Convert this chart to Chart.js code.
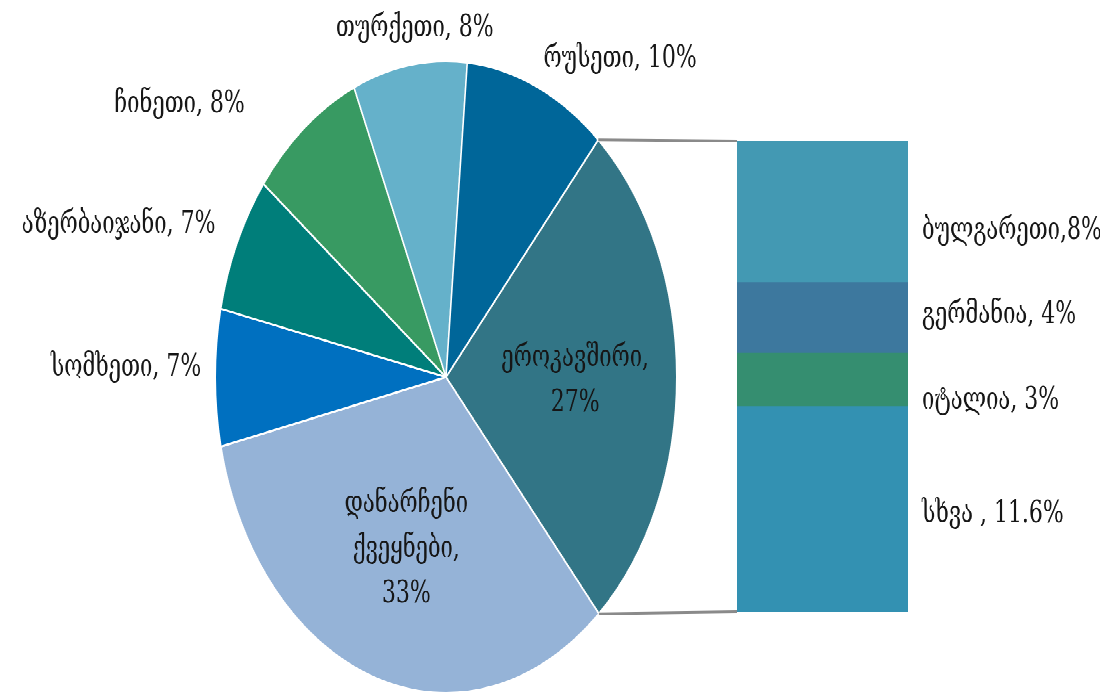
<!DOCTYPE html>
<html>
<head>
<meta charset="utf-8">
<script src="https://cdn.jsdelivr.net/npm/chart.js@4.4.1/dist/chart.umd.min.js"></script>
<style>
  html, body { margin: 0; padding: 0; background: #fff; }
  #page { position: relative; width: 1100px; height: 694px; overflow: hidden; }
  #wrap { position: absolute; left: 0; top: 0; width: 1100px; height: 507px; transform-origin: 0 0; transform: scaleY(1.3688); }
  #wrap canvas { position: absolute; left: 0; top: 0; width: 1100px; height: 507px; }
</style>
</head>
<body>
<div id="page">
<div id="wrap">
  <canvas id="pieChart" width="1100" height="507"></canvas>
  <canvas id="barChart" width="1100" height="507"></canvas>
</div>
</div>
<script>
// pie: countries
const pieLabels = ['ეროკავშირი', 'დანარჩენი ქვეყნები', 'სომხეთი', 'აზერბაიჯანი', 'ჩინეთი', 'თურქეთი', 'რუსეთი'];
const pieValues = [27, 33, 7, 7, 8, 8, 10];
const pieColors = ['#327586', '#95b3d7', '#0070c0', '#007e7a', '#389a62', '#65b1ca', '#006699'];

// EU breakdown (bottom to top)
const euLabels = ['სხვა ', 'იტალია', 'გერმანია', 'ბულგარეთი'];
const euValues = [11.6, 3, 4, 8];
const euColors = ['#3391b2', '#358e70', '#3d789e', '#4399b3'];

const FONT = '22px "DejaVu Serif"';
const TEXT = '#161616';

// small hand tweaks so the outside labels sit like the original
const outsideNudge = { 2: [0, -7], 3: [-18, -4], 4: [-76, 0], 5: [20, -5], 6: [47, 0] };
const barNudge = [4, 15, -2, 14];

const pieLabelPlugin = {
  id: 'pieLabels',
  afterDatasetsDraw(chart) {
    const ctx = chart.ctx;
    const arcs = chart.getDatasetMeta(0).data;
    ctx.save();
    ctx.font = FONT;
    ctx.fillStyle = TEXT;
    ctx.textAlign = 'center';
    ctx.textBaseline = 'middle';
    arcs.forEach((arc, i) => {
      const p = arc.getProps(['x', 'y', 'startAngle', 'endAngle', 'outerRadius'], true);
      const mid = (p.startAngle + p.endAngle) / 2;
      const dx = Math.cos(mid), dy = Math.sin(mid);
      if (i < 2) {
        // big slices: label inside, one word per line
        const lines = pieLabels[i].split(' ');
        lines[lines.length - 1] += ',';
        lines.push(pieValues[i] + '%');
        const r = p.outerRadius * 0.56;
        const cx = p.x + dx * r, cy = p.y + dy * r + 3;
        const lh = 33;
        lines.forEach((t, k) => ctx.fillText(t, cx, cy + (k - (lines.length - 1) / 2) * lh));
      } else {
        const t = pieLabels[i] + ', ' + pieValues[i] + '%';
        const w = ctx.measureText(t).width, h = 16;
        const r = p.outerRadius + 14;
        const n = outsideNudge[i] || [0, 0];
        ctx.fillText(t, p.x + dx * r + dx * w / 2 + n[0], p.y + dy * r + dy * h / 2 + n[1]);
      }
    });
    ctx.restore();
  }
};

const pie = new Chart(document.getElementById('pieChart'), {
  type: 'pie',
  data: {
    labels: pieLabels,
    datasets: [{
      data: pieValues,
      backgroundColor: pieColors,
      borderColor: '#ffffff',
      borderWidth: 1.5
    }]
  },
  options: {
    responsive: false,
    animation: false,
    devicePixelRatio: 2,
    rotation: 41.3,
    layout: { padding: { left: 214, right: 422, top: 44, bottom: 0 } },
    plugins: { legend: { display: false }, tooltip: { enabled: false } }
  },
  plugins: [pieLabelPlugin]
});

const linkPlugin = {
  id: 'euLinks',
  afterDatasetsDraw(chart) {
    const ctx = chart.ctx;
    const eu = pie.getDatasetMeta(0).data[0].getProps(['x', 'y', 'startAngle', 'endAngle', 'outerRadius'], true);
    const topBar = chart.getDatasetMeta(euValues.length - 1).data[0];
    const botBar = chart.getDatasetMeta(0).data[0];
    const left = topBar.x - topBar.width / 2;
    const R = eu.outerRadius;

    ctx.save();
    ctx.strokeStyle = '#8a8a8a';
    ctx.lineWidth = 2;
    ctx.beginPath();
    ctx.moveTo(eu.x + R * Math.cos(eu.startAngle), eu.y + R * Math.sin(eu.startAngle));
    ctx.lineTo(left, topBar.y);
    ctx.moveTo(eu.x + R * Math.cos(eu.endAngle), eu.y + R * Math.sin(eu.endAngle));
    ctx.lineTo(left, botBar.base);
    ctx.stroke();

    ctx.font = FONT;
    ctx.fillStyle = TEXT;
    ctx.textAlign = 'left';
    ctx.textBaseline = 'middle';
    euLabels.forEach((name, i) => {
      const bar = chart.getDatasetMeta(i).data[0];
      const sep = i === 3 ? ',' : ', ';
      ctx.fillText(name + sep + euValues[i] + '%', bar.x + bar.width / 2 + 14, (bar.y + bar.base) / 2 + barNudge[i]);
    });
    ctx.restore();
  }
};

const euTotal = euValues.reduce((a, b) => a + b, 0);

new Chart(document.getElementById('barChart'), {
  type: 'bar',
  data: {
    labels: ['ეროკავშირი'],
    datasets: euLabels.map((name, i) => ({
      label: name,
      data: [euValues[i]],
      backgroundColor: euColors[i],
      borderWidth: 0,
      categoryPercentage: 1,
      barPercentage: 1
    }))
  },
  options: {
    responsive: false,
    animation: false,
    devicePixelRatio: 2,
    layout: { padding: { left: 737, right: 192, top: 103, bottom: 60 } },
    scales: {
      x: { stacked: true, display: false },
      y: { stacked: true, display: false, min: 0, max: euTotal }
    },
    plugins: { legend: { display: false }, tooltip: { enabled: false } }
  },
  plugins: [linkPlugin]
});
</script>
</body>
</html>
